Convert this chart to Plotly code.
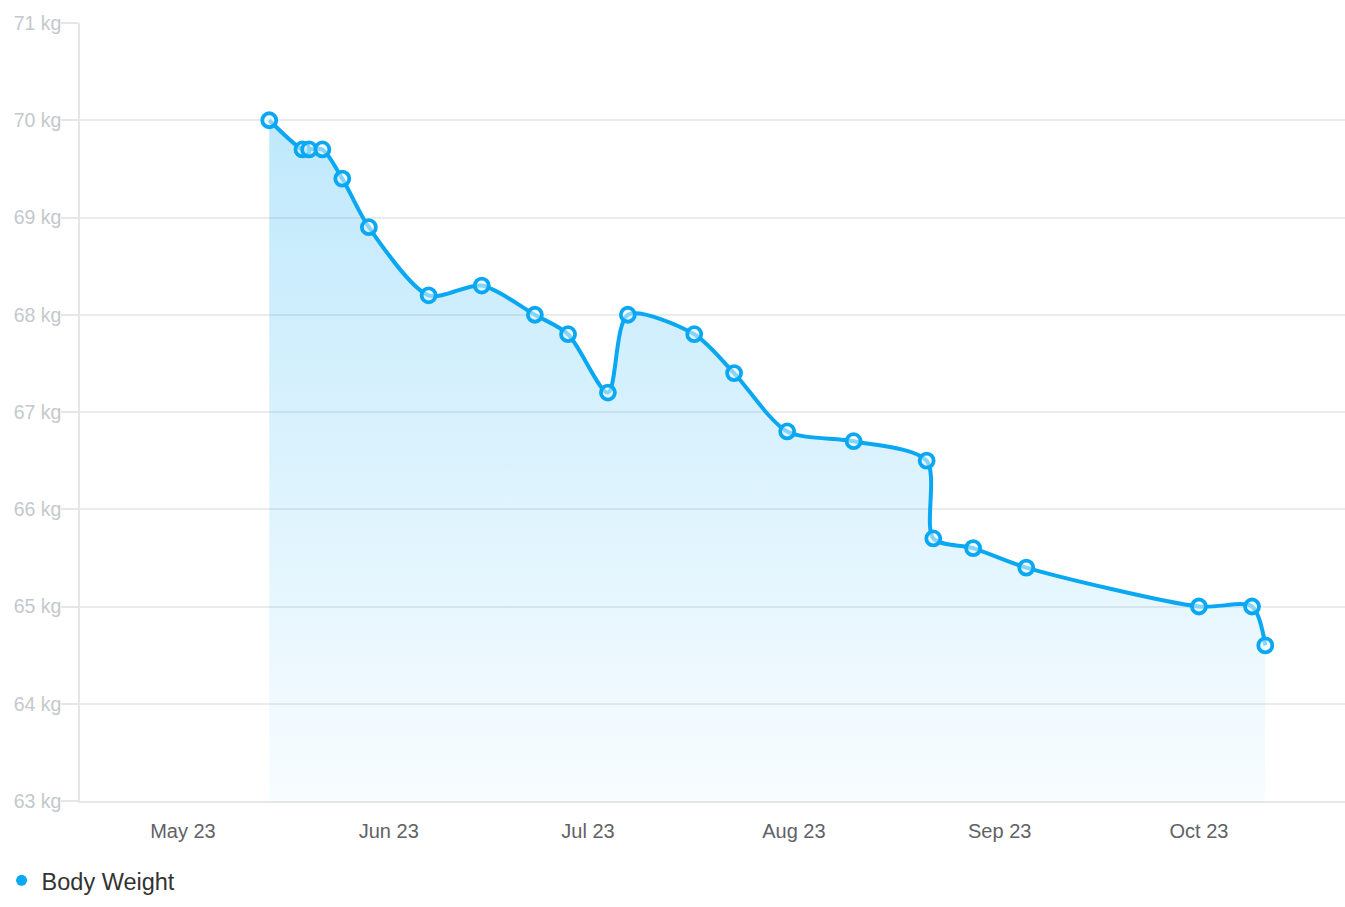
import plotly.graph_objects as go

dates = ["2023-05-14", "2023-05-19", "2023-05-20", "2023-05-22", "2023-05-25", "2023-05-29",
         "2023-06-07", "2023-06-15", "2023-06-23", "2023-06-28", "2023-07-04", "2023-07-07",
         "2023-07-17", "2023-07-23", "2023-07-31", "2023-08-10", "2023-08-21", "2023-08-22",
         "2023-08-28", "2023-09-05", "2023-10-01", "2023-10-09", "2023-10-11"]
weights = [70.0, 69.7, 69.7, 69.7, 69.4, 68.9,
           68.2, 68.3, 68.0, 67.8, 67.2, 68.0,
           67.8, 67.4, 66.8, 66.7, 66.5, 65.7,
           65.6, 65.4, 65.0, 65.0, 64.6]
tick_dates = ["2023-05-01", "2023-06-01", "2023-07-01", "2023-08-01", "2023-09-01", "2023-10-01"]
tick_labels = ["May 23", "Jun 23", "Jul 23", "Aug 23", "Sep 23", "Oct 23"]
y_ticks = [63, 64, 65, 66, 67, 68, 69, 70, 71]
y_labels = [f"{v} kg" for v in y_ticks]

BLUE = "#0aa8f3"
FONT = "Liberation Sans, Arial, sans-serif"

fig = go.Figure()
fig.add_trace(go.Scatter(
    x=dates, y=weights, mode="lines+markers", showlegend=False,
    line=dict(color=BLUE, width=4, shape="spline", smoothing=0.8),
    marker=dict(size=14, color="rgba(235,248,255,0.55)", line=dict(color=BLUE, width=3.8)),
    fill="tozeroy",
    fillgradient=dict(type="vertical", start=63, stop=70,
                      colorscale=[[0, "rgba(10,168,243,0.03)"], [1, "rgba(10,168,243,0.26)"]]),
))
fig.add_trace(go.Scatter(
    x=[None], y=[None], mode="markers", name="Body Weight",
    marker=dict(size=11, color=BLUE),
))

fig.update_layout(
    width=1345, height=907,
    margin=dict(l=80, r=0, t=23, b=106),
    paper_bgcolor="white", plot_bgcolor="white",
    font=dict(family=FONT),
    showlegend=True,
    legend=dict(orientation="h", x=-0.062, xanchor="left", y=-0.074, yanchor="top",
                font=dict(size=23.5, color="#333333"), itemwidth=30),
    xaxis=dict(
        type="date", range=["2023-04-15 12:00", "2023-10-23"],
        tickvals=tick_dates, ticktext=tick_labels,
        tickfont=dict(size=20, color="#606266"),
        showgrid=False, zeroline=False,
        showline=True, linecolor="#e6e6e6", linewidth=1.5,
        ticks="", ticklabelstandoff=11,
    ),
    yaxis=dict(
        range=[63, 71], tickvals=y_ticks, ticktext=y_labels,
        tickfont=dict(size=19.5, color="#c4c8cc"),
        showgrid=True, gridcolor="#ebebeb", gridwidth=1.5,
        zeroline=False, showline=True, linecolor="#e6e6e6", linewidth=1.5,
        ticks="outside", ticklen=17, tickcolor="#e6e6e6", tickwidth=1.5,
        ticklabelstandoff=-4,
    ),
)

fig.write_html("out.html", config={"displayModeBar": False},
               post_script="document.body.style.margin='0';document.body.style.overflow='hidden';")
